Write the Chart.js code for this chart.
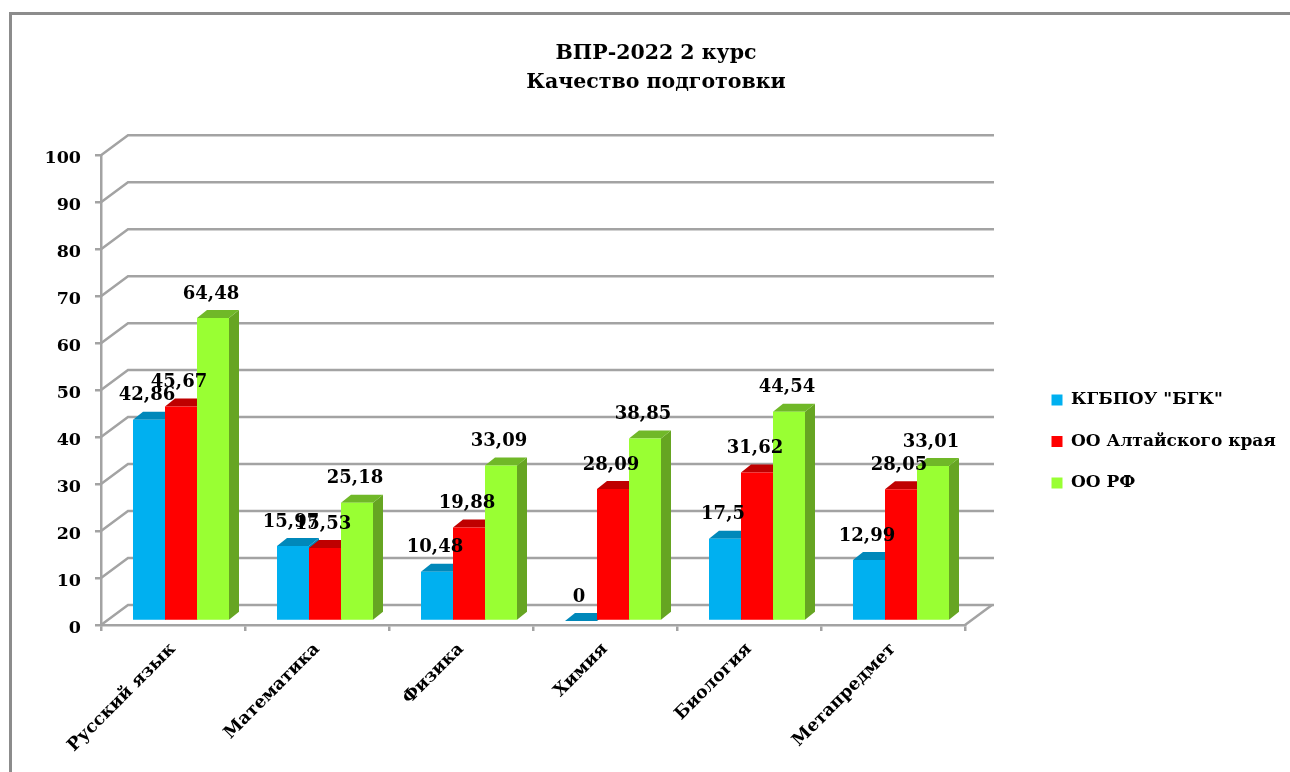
<!DOCTYPE html>
<html>
<head>
<meta charset="utf-8">
<title>ВПР-2022 2 курс</title>
<script src="https://cdn.jsdelivr.net/npm/chart.js@4"></script>
<style>
  body { margin: 0; background: #fff; overflow: hidden; }
  #frame { position: absolute; left: 9px; top: 12px; width: 1290px; height: 772px; border-left: 3px solid #8c8c8c; border-top: 3px solid #8c8c8c; }
  canvas { position: absolute; left: 0; top: 0; }
</style>
</head>
<body>
<div id="frame"></div>
<canvas id="myChart" width="1290" height="772"></canvas>
<script>
const categories = ['Русский язык', 'Математика', 'Физика', 'Химия', 'Биология', 'Метапредмет'];
const bgk = [42.86, 15.97, 10.48, 0, 17.5, 12.99];
const altai = [45.67, 15.53, 19.88, 28.09, 31.62, 28.05];
const russia = [64.48, 25.18, 33.09, 38.85, 44.54, 33.01];
const titleLines = ['ВПР-2022 2 курс', 'Качество подготовки'];

const fontFamily = '"DejaVu Serif", serif';
const gridColor = '#a3a3a3';
// side + top shades for the fake 3d bars
const sideColors = ['#0088ba', '#bf0000', '#66a522'];
const topColors = ['#0088ba', '#bf0000', '#70b828'];

const bars3d = {
  id: 'bars3d',
  afterLayout(chart) {
    // title and legend sit where the original has them, not where layout puts them
    chart.titleBlock.left = 22;
    chart.titleBlock.right = 1290;
    chart.legend.left = 1027;
    chart.legend.top = 367;
    chart.legend.right = 1290;
    chart.legend.bottom = 772;
  },
  beforeDatasetsDraw(chart) {
    const ctx = chart.ctx;
    const yScale = chart.scales.y;
    const area = chart.chartArea;

    // walls and floor
    ctx.save();
    ctx.strokeStyle = gridColor;
    ctx.lineWidth = 2.5;
    yScale.ticks.forEach(t => {
      const y = yScale.getPixelForValue(t.value);
      ctx.beginPath();
      ctx.moveTo(area.left, y);
      ctx.lineTo(area.left + 27, y - 20);
      ctx.lineTo(area.right + 29, y - 20);
      ctx.stroke();
    });
    ctx.beginPath();
    ctx.moveTo(area.right, area.bottom);
    ctx.lineTo(area.right + 27, area.bottom - 20);
    ctx.stroke();
    ctx.restore();

    // left to right so each series covers the side of the one before it
    chart.data.datasets.forEach((ds, i) => {
      const meta = chart.getDatasetMeta(i);
      ctx.save();
      ctx.translate(8, -4);
      meta.data.forEach(bar => {
        const l = bar.x - bar.width / 2;
        const r = bar.x + bar.width / 2;
        ctx.fillStyle = sideColors[i];
        ctx.beginPath();
        ctx.moveTo(r, bar.y);
        ctx.lineTo(r + 10, bar.y - 8);
        ctx.lineTo(r + 10, bar.base - 8);
        ctx.lineTo(r, bar.base);
        ctx.closePath();
        ctx.fill();
        ctx.fillStyle = topColors[i];
        ctx.beginPath();
        ctx.moveTo(l, bar.y);
        ctx.lineTo(l + 10, bar.y - 8);
        ctx.lineTo(r + 10, bar.y - 8);
        ctx.lineTo(r, bar.y);
        ctx.closePath();
        ctx.fill();
      });
      meta.controller.draw();
      ctx.restore();
    });

    // value labels go on top of every bar
    ctx.save();
    ctx.fillStyle = '#000';
    ctx.font = 'bold 18px ' + fontFamily;
    ctx.textAlign = 'center';
    ctx.textBaseline = 'middle';
    chart.data.datasets.forEach((ds, i) => {
      chart.getDatasetMeta(i).data.forEach((bar, j) => {
        ctx.fillText(String(ds.data[j]).replace('.', ','), bar.x + 6, bar.y - 28);
      });
    });
    ctx.restore();
    return false;
  }
};

new Chart(document.getElementById('myChart'), {
  type: 'bar',
  data: {
    labels: categories,
    datasets: [
      { label: 'КГБПОУ "БГК"', data: bgk, backgroundColor: '#00b0f0', borderWidth: 0 },
      { label: 'ОО Алтайского края', data: altai, backgroundColor: '#ff0000', borderWidth: 0 },
      { label: 'ОО РФ', data: russia, backgroundColor: '#99ff33', borderWidth: 0 }
    ]
  },
  options: {
    responsive: false,
    animation: false,
    categoryPercentage: 2 / 3,
    barPercentage: 1,
    layout: { padding: { left: 0, top: 0, right: 325, bottom: 0 } },
    plugins: {
      tooltip: { enabled: false },
      title: {
        display: true,
        text: titleLines,
        color: '#000',
        font: { family: fontFamily, size: 20.5, weight: 'bold', lineHeight: 1.42 },
        padding: { top: 39, bottom: 58 }
      },
      legend: {
        position: 'chartArea',
        align: 'start',
        padding: 0,
        labels: {
          color: '#000',
          font: { family: fontFamily, size: 17, weight: 'bold' },
          boxWidth: 11,
          boxHeight: 11,
          padding: 24.5
        }
      }
    },
    scales: {
      x: {
        afterFit(scale) { scale.height = 147; },
        border: { color: gridColor, width: 2.5 },
        grid: { drawOnChartArea: false, color: gridColor, lineWidth: 2.5, tickLength: 6, offset: true },
        ticks: {
          color: '#000',
          font: { family: fontFamily, size: 17.5, weight: 'bold' },
          minRotation: 45,
          maxRotation: 45,
          padding: 8
        }
      },
      y: {
        min: 0,
        max: 100,
        afterFit(scale) { scale.width = 101; },
        border: { color: gridColor, width: 2.5 },
        grid: { drawOnChartArea: false, color: gridColor, lineWidth: 2.5, tickLength: 6 },
        ticks: {
          stepSize: 10,
          color: '#000',
          font: { family: fontFamily, size: 17.5, weight: 'bold' },
          padding: 14,
          labelOffset: 3
        }
      }
    }
  },
  plugins: [bars3d]
});
</script>
</body>
</html>
